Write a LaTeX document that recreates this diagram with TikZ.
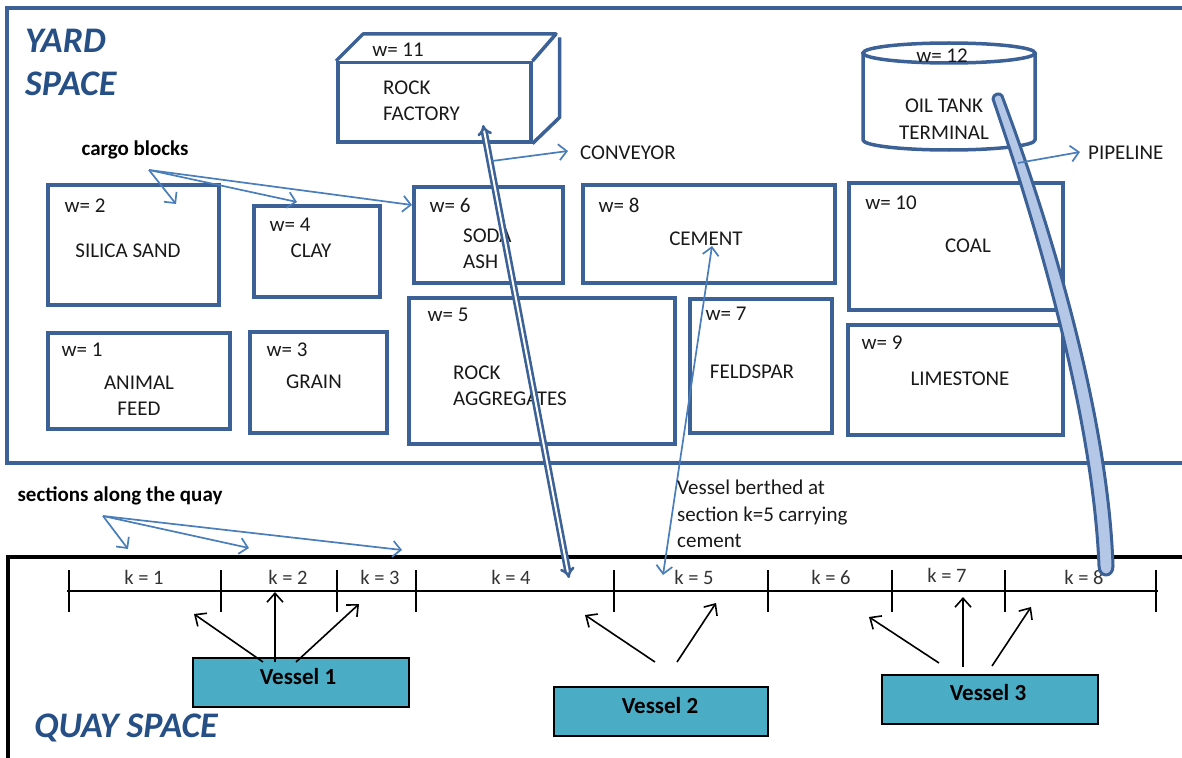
\documentclass[tikz,border=0pt]{standalone}
\usepackage{fontspec}
\setmainfont{Carlito}
\usetikzlibrary{arrows.meta}
\definecolor{boxblue}{HTML}{3B6196}
\definecolor{arrowblue}{HTML}{4A7EBB}
\definecolor{titleblue}{HTML}{254F85}
\definecolor{vesselfill}{HTML}{4BACC6}
\definecolor{pipefill}{HTML}{B4C7E7}
\begin{document}
\begin{tikzpicture}[x=1pt,y=-1pt,
  block/.style={draw=boxblue, line width=3.5pt, inner sep=0pt, anchor=north west},
  lbl/.style={inner sep=0pt, font=\fontsize{21}{26.5}\selectfont, text=black!90},
  lblL/.style={lbl, align=left, anchor=west},
  title/.style={inner sep=0pt, font=\fontsize{36}{43}\selectfont\bfseries\itshape, text=titleblue},
  note/.style={inner sep=0pt, font=\fontsize{21}{26.5}\selectfont\bfseries, text=black},
  klbl/.style={inner sep=0pt, font=\fontsize{20.5}{24}\selectfont, text=black!80},
  thinarrow/.style={draw=arrowblue, line width=1.7pt, -{Straight Barb[length=8pt,width=16pt]}},
  vesarrow/.style={draw=black, line width=1.6pt, -{Straight Barb[length=9pt,width=16pt]}},
  vessel/.style={draw=black, line width=1.6pt, fill=vesselfill, inner sep=0pt, anchor=north west},
  vtext/.style={font=\fontsize{23}{26}\selectfont\bfseries, inner sep=0pt},
  tick/.style={draw=black, line width=1.4pt}
]
\useasboundingbox (0,0) rectangle (1182,757);

% ---------- yard and quay frames ----------
\draw[boxblue, line width=3.5pt] (1190,8) -- (7,8) -- (7,463) -- (1190,463);
\draw[black, line width=4.5pt] (1190,557) -- (8,557) -- (8,760);
\node[title, align=left, anchor=north west] (yard) at (25,29) {YARD\\SPACE};
\node[title] (quay) at (126,728) {QUAY SPACE};

% ---------- cargo blocks ----------
\node[block, minimum width=171pt, minimum height=120pt] (silica) at (46,183) {};
\node[block, minimum width=126pt, minimum height=91pt]  (clay)   at (252,204) {};
\node[block, minimum width=149pt, minimum height=96pt]  (soda)   at (412,185) {};
\node[block, minimum width=252pt, minimum height=98pt]  (cement) at (581,183) {};
\node[block, minimum width=214pt, minimum height=127pt] (coal)   at (847,181) {};
\node[block, minimum width=182pt, minimum height=96pt]  (feed)   at (46,331) {};
\node[block, minimum width=137pt, minimum height=101pt] (grain)  at (248,330) {};
\node[block, minimum width=266pt, minimum height=146pt] (aggr)   at (407,296) {};
\node[block, minimum width=142pt, minimum height=134pt] (felds)  at (688,297) {};
\node[block, minimum width=215pt, minimum height=110pt] (lime)   at (846,323) {};

\node[lbl] (wSilica) at (85,206) {w= 2};
\node[lbl] (tSilica) at (128,251) {SILICA SAND};
\node[lbl] (wClay) at (290,225) {w= 4};
\node[lbl] (tClay) at (311,251) {CLAY};
\node[lbl] (wSoda) at (450,205) {w= 6};
\node[lblL] (tSoda) at (463,249) {SODA\\ASH};
\node[lbl] (wCement) at (619,205) {w= 8};
\node[lbl] (tCement) at (706,239) {CEMENT};
\node[lbl] (wCoal) at (891,203) {w= 10};
\node[lbl] (tCoal) at (968,246) {COAL};
\node[lbl] (wFeed) at (82,350) {w= 1};
\node[lbl, align=center] (tFeed) at (139,396) {ANIMAL\\FEED};
\node[lbl] (wGrain) at (287,350) {w= 3};
\node[lbl] (tGrain) at (314,382) {GRAIN};
\node[lbl] (wAggr) at (448,315) {w= 5};
\node[lblL] (tAggr) at (453,386) {ROCK\\AGGREGATES};
\node[lbl] (wFelds) at (726,314) {w= 7};
\node[lbl] (tFelds) at (752,372) {FELDSPAR};
\node[lbl] (wLime) at (882,343) {w= 9};
\node[lbl] (tLime) at (960,379) {LIMESTONE};

% ---------- rock factory (box drawn in perspective) ----------
\node[block, minimum width=193pt, minimum height=79pt] (factory) at (336,61) {};
\draw[boxblue, line width=3.5pt, line join=round]
  (factory.north west) -- ++(27,-27) -- ++(193,0) -- (factory.north east);
\draw[boxblue, line width=3.5pt, line join=round]
  (factory.south east) -- ++(27,-26) -- ++(0,-80);
\node[lbl] (wFactory) at (398,50) {w= 11};
\node[lblL] (tFactory) at (383,101) {ROCK\\FACTORY};

% ---------- oil tank terminal (cylinder) ----------
\node[inner sep=0pt, minimum width=172pt, minimum height=97pt] (tank) at (949,101) {};
\draw[boxblue, line width=3.5pt] (949,53) ellipse [x radius=86, y radius=10];
\draw[boxblue, line width=3.5pt, line join=round]
  (863,53) -- (863,140) arc[start angle=180, end angle=0, x radius=86, y radius=10] -- (1035,53);
\node[lbl] (wTank) at (942,56) {w= 12};
\node[lbl, align=center] (tTank) at (944,119) {OIL TANK\\TERMINAL};

% ---------- cargo block pointers ----------
\node[note] (cargo) at (135,150) {cargo blocks};
\coordinate (cbFrom) at (149,170);
\coordinate (cbA) at (176,204);
\coordinate (cbB) at (297,202);
\coordinate (cbC) at (412,205);
\draw[thinarrow] (cbFrom) -- (cbA);
\draw[thinarrow] (cbFrom) -- (cbB);
\draw[thinarrow] (cbFrom) -- (cbC);

% ---------- section axis along the quay ----------
\coordinate (axL) at (67,591);
\coordinate (axR) at (1158,591);
\draw[black, line width=1.4pt] (axL) -- (axR);
\foreach \x [count=\i] in {69,221,337,416,614,768,892,1005,1156}
  \draw[tick] (\x,570) coordinate (tk\i) -- (\x,612);
\node[klbl] (k1) at (144,577) {k = 1};
\node[klbl] (k2) at (288,577) {k = 2};
\node[klbl] (k3) at (380,577) {k = 3};
\node[klbl] (k4) at (511,577) {k = 4};
\node[klbl] (k5) at (694,577) {k = 5};
\node[klbl] (k6) at (831,577) {k = 6};
\node[klbl] (k7) at (947,575) {k = 7};
\node[klbl] (k8) at (1084,577) {k = 8};

\node[note] (sections) at (120,496) {sections along the quay};
\coordinate (secFrom) at (103,516);
\coordinate (secA) at (128,549);
\coordinate (secB) at (249,548);
\coordinate (secC) at (402,550);
\draw[thinarrow] (secFrom) -- (secA);
\draw[thinarrow] (secFrom) -- (secB);
\draw[thinarrow] (secFrom) -- (secC);

% ---------- vessels ----------
\node[vessel, minimum width=216pt, minimum height=49pt] (v1) at (192,657) {};
\node[vtext] (v1t) at (298,677) {Vessel 1};
\node[vessel, minimum width=214pt, minimum height=49pt] (v2) at (553,686) {};
\node[vtext] (v2t) at (660,706) {Vessel 2};
\node[vessel, minimum width=216pt, minimum height=49pt] (v3) at (881,674) {};
\node[vtext] (v3t) at (988,693) {Vessel 3};

\coordinate (v1a) at (263,662); \coordinate (v1aE) at (194,614);
\coordinate (v1b) at (275,662); \coordinate (v1bE) at (275,592);
\coordinate (v1c) at (296,662); \coordinate (v1cE) at (359,604);
\draw[vesarrow] (v1a) -- (v1aE);
\draw[vesarrow] (v1b) -- (v1bE);
\draw[vesarrow] (v1c) -- (v1cE);
\coordinate (v2a) at (655,662); \coordinate (v2aE) at (585,615);
\coordinate (v2b) at (677,662); \coordinate (v2bE) at (716,603);
\draw[vesarrow] (v2a) -- (v2aE);
\draw[vesarrow] (v2b) -- (v2bE);
\coordinate (v3a) at (939,663); \coordinate (v3aE) at (869,617);
\coordinate (v3b) at (963,667); \coordinate (v3bE) at (963,597);
\coordinate (v3c) at (992,666); \coordinate (v3cE) at (1031,607);
\draw[vesarrow] (v3a) -- (v3aE);
\draw[vesarrow] (v3b) -- (v3bE);
\draw[vesarrow] (v3c) -- (v3cE);

% ---------- links between yard and quay ----------
\coordinate (rfTop) at (483,125);
\coordinate (rfQuay) at (569,578);
\draw[draw=boxblue, line width=2.6pt, double=white, double distance=2pt, {Implies}-{Implies}]
  (rfTop) -- (rfQuay);
\coordinate (conv) at (492,161);
\node[lbl, anchor=west] (conveyor) at (580,153) {CONVEYOR};
\draw[thinarrow] (conv) -- ([xshift=-12pt, yshift=2pt]conveyor.west);

\coordinate (cemTop) at (712,246);
\coordinate (cemQuay) at (663,575);
\draw[thinarrow, {Straight Barb[length=8pt,width=16pt]}-{Straight Barb[length=8pt,width=16pt]}] (cemTop) -- (cemQuay);
\node[inner sep=0pt, align=left, anchor=north west, font=\fontsize{21}{26.5}\selectfont, text=black!90]
  (berth) at (677,480) {Vessel berthed at\\section k=5 carrying\\cement};

% pipeline from the oil tank down to section k=8
\draw[boxblue, line width=3pt, fill=pipefill, line join=round]
  (993,99) .. controls (1039,233) and (1093,420) .. (1099,566)
  .. controls (1099,578) and (1113,578) .. (1113,566)
  .. controls (1108,418) and (1052,229) .. (1002,96)
  .. controls (1000,92) and (993,94) .. (993,99) -- cycle;
\coordinate (pipe) at (1018,163);
\node[lbl, anchor=west] (pipeline) at (1088,153) {PIPELINE};
\draw[thinarrow] (pipe) -- ([xshift=-8pt, yshift=1pt]pipeline.west);
\end{tikzpicture}
\end{document}
